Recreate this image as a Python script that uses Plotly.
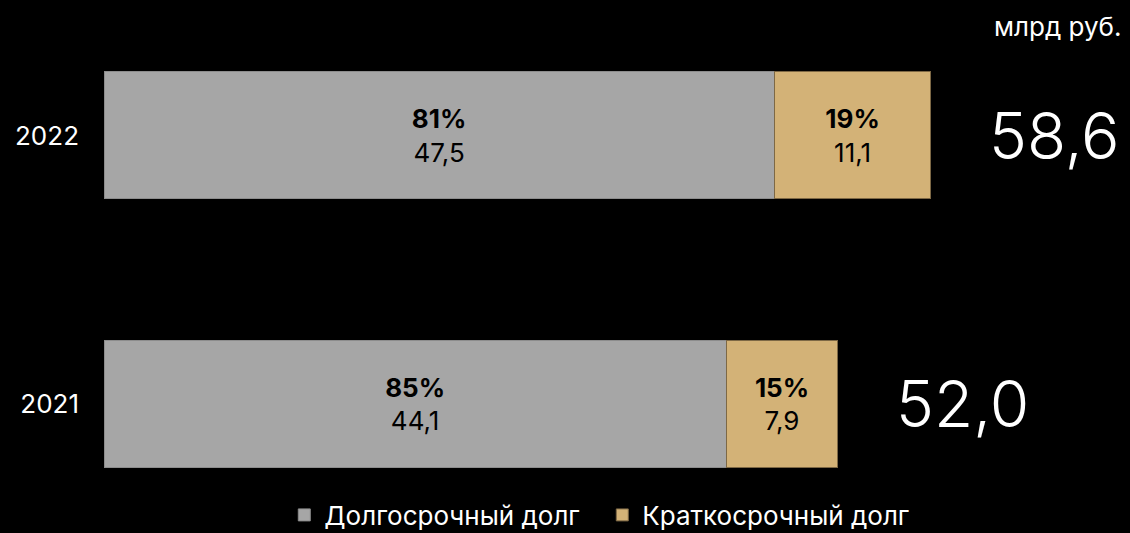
import plotly.graph_objects as go

years = ["2021", "2022"]
long_vals = [44.1, 47.5]
short_vals = [7.9, 11.1]
long_pct = [85, 81]
short_pct = [15, 19]
totals = [52.0, 58.6]
series_names = ["Долгосрочный долг", "Краткосрочный долг"]
unit_label = "млрд руб."

def fmt(v):
    return f"{v:.1f}".replace(".", ",")

FONT = "Inter"
GRAY = "#A6A6A6"
GOLD = "#D3B277"

fig = go.Figure()
fig.add_trace(go.Bar(
    y=years, x=long_vals, orientation="h", name=series_names[0],
    marker=dict(color=GRAY, line=dict(color="#8c8c8c", width=1)),
    text=[f"<b>{p}%</b><br>{fmt(v)}" for p, v in zip(long_pct, long_vals)],
    textposition="inside", insidetextanchor="middle", textangle=0,
    constraintext="none",
    textfont=dict(color="black", size=26, family=FONT),
    hoverinfo="skip",
))
fig.add_trace(go.Bar(
    y=years, x=short_vals, orientation="h", name=series_names[1],
    marker=dict(color=GOLD, line=dict(color="#7d6845", width=1)),
    text=[f"<b>{p}%</b><br>{fmt(v)}" for p, v in zip(short_pct, short_vals)],
    textposition="inside", insidetextanchor="middle", textangle=0,
    constraintext="none",
    textfont=dict(color="black", size=26, family=FONT),
    hoverinfo="skip",
))

for i, t in enumerate(totals):
    fig.add_annotation(x=t, y=i, xref="x", yref="y", text=fmt(t),
                       xanchor="left", yanchor="middle", xshift=56,
                       showarrow=False,
                       font=dict(color="white", size=64, family=FONT, weight=300))

fig.add_annotation(x=1, xref="paper", xanchor="right", xshift=-7,
                   y=1 - 7 / 453, yref="paper", yanchor="middle",
                   text=unit_label, showarrow=False,
                   font=dict(color="white", size=26, family=FONT))

fig.update_layout(
    width=1130, height=533,
    barmode="stack", bargap=0.527,
    paper_bgcolor="black", plot_bgcolor="black",
    margin=dict(l=104, r=0, t=20, b=60),
    font=dict(family=FONT, color="white", size=26),
    xaxis=dict(range=[0, 1026 / 14.11], visible=False, showgrid=False, zeroline=False),
    yaxis=dict(type="category", categoryorder="array", categoryarray=years,
               range=[-0.257, 1.430], showgrid=False, zeroline=False,
               ticks="", ticklabelstandoff=24,
               tickfont=dict(color="white", size=26, family=FONT)),
    showlegend=True,
    legend=dict(orientation="h", xref="container", x=0.533, xanchor="center",
                yref="container", y=18 / 533, yanchor="middle",
                font=dict(color="white", size=26, family=FONT),
                itemwidth=30, entrywidth=273, entrywidthmode="pixels",
                traceorder="normal", itemclick=False),
)

fig.write_html(
    "out.html",
    config={"displayModeBar": False},
    post_script="document.body.style.margin='0';document.body.style.background='black';",
)
